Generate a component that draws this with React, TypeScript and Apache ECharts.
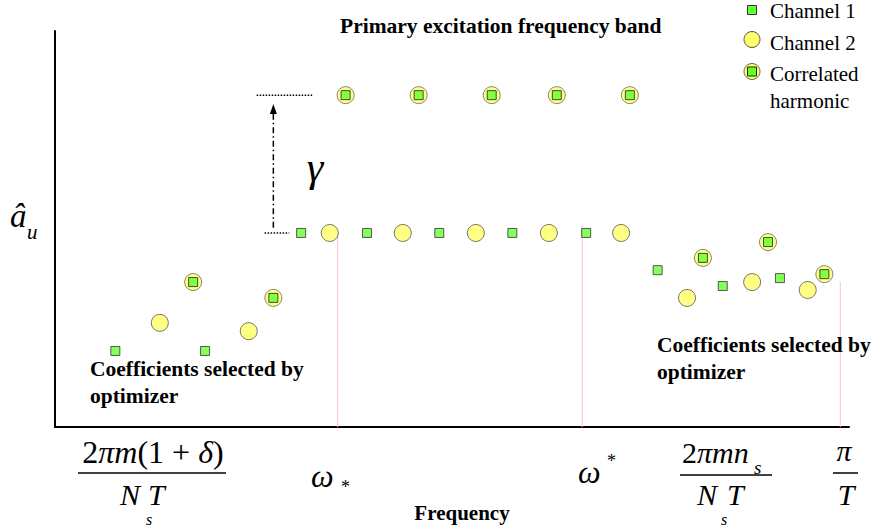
import React, { useEffect, useRef } from "react";
import * as echarts from "echarts";

// ---- data (x: frequency position 0..100, y: coefficient magnitude 0..100) ----
const channel1: number[][] = [
  [7.6, 19.2], [18.9, 19.2], [31.0, 49.0], [39.3, 49.0], [48.4, 49.0],
  [57.6, 49.0], [66.9, 49.0], [75.9, 39.6], [84.1, 35.6], [91.3, 37.6],
];
const channel2: number[][] = [
  [13.2, 26.3], [24.4, 24.2], [34.6, 49.0], [43.8, 49.0], [53.0, 49.0],
  [62.2, 49.0], [71.3, 49.0], [79.6, 32.6], [87.8, 36.6], [94.8, 34.6],
];
const correlated: number[][] = [
  [17.4, 36.6], [27.5, 32.6], [36.6, 83.8], [45.8, 83.8], [55.0, 83.8],
  [63.2, 83.8], [72.4, 83.8], [81.6, 42.7], [89.8, 46.7], [96.9, 38.6],
];
// band edge markers: [x, top]
const bandEdges: number[][] = [[35.6, 48.5], [66.4, 51.0], [98.9, 36.6]];
// gamma annotation levels
const gammaUpper: number[][] = [[25.4, 83.8], [32.5, 83.8]];
const gammaLower: number[][] = [[26.4, 49.0], [29.5, 49.0]];
const gammaArrow: number[][] = [[27.5, 50.3], [27.5, 80.3]];

const seriesNames = ["Channel 1", "Channel 2", "Correlated harmonic"];
const titleText = "Primary excitation frequency band";
const xAxisName = "Frequency";
const noteLines = ["Coefficients selected by", "optimizer"];

const FONT = "Liberation Serif";
const GREEN = "#66ff33";
const YELLOW = "#ffff66";

const txt = (
  text: string, x: number, y: number, size: number,
  o: { italic?: boolean; bold?: boolean; align?: string } = {}
) => ({
  type: "text", x, y, silent: true, z: 10,
  style: {
    text, fontFamily: FONT, fontSize: size,
    fontStyle: o.italic ? "italic" : "normal",
    fontWeight: o.bold ? "bold" : "normal",
    fill: "#000", align: o.align || "left", verticalAlign: "middle",
  },
});

const richMath = (text: string, x: number, y: number, align = "left", size = 30) => ({
  type: "text", x, y, silent: true, z: 10,
  style: {
    text, align, verticalAlign: "middle", fill: "#000",
    fontFamily: FONT, fontSize: size,
    rich: {
      r: { fontFamily: FONT, fontSize: size, fontStyle: "normal", fill: "#000" },
      i: { fontFamily: FONT, fontSize: size, fontStyle: "italic", fill: "#000" },
    },
  },
});

const hline = (x1: number, x2: number, y: number) => ({
  type: "line", silent: true, z: 10,
  shape: { x1, y1: y, x2, y2: y },
  style: { stroke: "#000", lineWidth: 1.5 },
});

export default function App() {
  const ref = useRef<HTMLDivElement>(null);
  useEffect(() => {
    if (!ref.current) return;
    const chart = echarts.init(ref.current, null, { renderer: "svg" });

    const edgeSeries = bandEdges.map((e) => ({
      type: "line", silent: true, z: 1, symbol: "none",
      data: [[e[0], 0], [e[0], e[1]]],
      lineStyle: { color: "#ffbcdf", width: 1 },
    }));

    const option: any = {
      animation: false,
      textStyle: { fontFamily: FONT },
      grid: { left: 55, right: 24, top: 31, bottom: 104 },
      xAxis: {
        type: "value", min: 0, max: 100,
        axisLine: { show: true, onZero: false, lineStyle: { color: "#000", width: 2 } },
        axisTick: { show: false }, axisLabel: { show: false }, splitLine: { show: false },
      },
      yAxis: {
        type: "value", min: 0, max: 100,
        axisLine: { show: true, onZero: false, lineStyle: { color: "#000", width: 2 } },
        axisTick: { show: false }, axisLabel: { show: false }, splitLine: { show: false },
      },
      series: [
        ...edgeSeries,
        {
          type: "line", silent: true, z: 2, symbol: "none", data: gammaUpper,
          lineStyle: { color: "#000", width: 1.5, type: [1.5, 1.5] },
        },
        {
          type: "line", silent: true, z: 2, symbol: "none", data: gammaLower,
          lineStyle: { color: "#000", width: 1.5, type: [1.5, 1.5] },
        },
        {
          type: "line", silent: true, z: 2, showSymbol: true,
          data: [
            { value: gammaArrow[0], symbol: "none" },
            { value: gammaArrow[1], symbol: "triangle", symbolSize: [7, 10] },
          ],
          itemStyle: { color: "#000" },
          lineStyle: { color: "#000", width: 1.5, type: [6, 3, 1.5, 3] },
        },
        {
          name: seriesNames[0], type: "scatter", z: 5, data: channel1,
          symbol: "rect", symbolSize: 9,
          itemStyle: { color: GREEN, borderColor: "#333", borderWidth: 1 },
        },
        {
          name: seriesNames[1], type: "scatter", z: 5, data: channel2,
          symbol: "circle", symbolSize: 17,
          itemStyle: { color: YELLOW, borderColor: "#555", borderWidth: 1 },
        },
        {
          name: seriesNames[2], type: "scatter", z: 5, data: correlated,
          symbol: "circle", symbolSize: 17,
          itemStyle: { color: YELLOW, borderColor: "#666", borderWidth: 1 },
        },
        {
          name: seriesNames[2], type: "scatter", z: 6, data: correlated,
          symbol: "rect", symbolSize: 9,
          itemStyle: { color: GREEN, borderColor: "#222", borderWidth: 1 },
        },
      ],
      graphic: [
        // title
        txt(titleText, 340, 26, 21.5, { bold: true }),
        // legend
        { type: "rect", z: 10, shape: { x: 747.5, y: 5.5, width: 9, height: 9 },
          style: { fill: GREEN, stroke: "#333", lineWidth: 1 } },
        txt(seriesNames[0], 770, 11, 21),
        { type: "circle", z: 10, shape: { cx: 752, cy: 39.5, r: 8 },
          style: { fill: YELLOW, stroke: "#555", lineWidth: 1 } },
        txt(seriesNames[1], 770, 43, 21),
        { type: "circle", z: 10, shape: { cx: 752, cy: 71.5, r: 8 },
          style: { fill: YELLOW, stroke: "#666", lineWidth: 1 } },
        { type: "rect", z: 11, shape: { x: 747.5, y: 67, width: 9, height: 9 },
          style: { fill: GREEN, stroke: "#222", lineWidth: 1 } },
        txt("Correlated", 770, 74, 21),
        txt("harmonic", 770, 101, 21),
        // notes
        txt(noteLines[0], 90, 369, 21.5, { bold: true }),
        txt(noteLines[1], 90, 396, 21.5, { bold: true }),
        txt(noteLines[0], 657, 345, 21.5, { bold: true }),
        txt(noteLines[1], 657, 372, 21.5, { bold: true }),
        // gamma
        txt("γ", 315, 167, 42, { italic: true, align: "center" }),
        // y axis label
        txt("â", 10, 216, 33, { italic: true }),
        txt("u", 27, 232, 21, { italic: true }),
        // x axis name
        txt(xAxisName, 462, 513, 21, { bold: true, align: "center" }),
        // tick label 1: 2πm(1+δ) / N_s T
        richMath("{r|2}{i|πm}{r|(1 + }{i|δ}{r|)}", 153, 452, "center", 32),
        hline(78, 226, 473),
        txt("N", 120, 494, 30, { italic: true }),
        txt("s", 146, 519, 16, { italic: true }),
        txt("T", 148, 494, 30, { italic: true }),
        // ω_*
        txt("ω", 311, 476, 32, { italic: true }),
        txt("*", 341, 487, 18),
        // ω^*
        txt("ω", 578, 472, 32, { italic: true }),
        txt("*", 607, 461, 18),
        // 2πmn_s / N_s T
        richMath("{r|2}{i|πmn}", 682, 452, "left", 30),
        txt("s", 754, 467, 19, { italic: true }),
        hline(680, 772, 475),
        txt("N", 697, 494, 30, { italic: true }),
        txt("s", 721, 519, 16, { italic: true }),
        txt("T", 727, 494, 30, { italic: true }),
        // π / T
        txt("π", 844, 450, 30, { italic: true, align: "center" }),
        hline(833, 858, 473),
        txt("T", 846, 494, 30, { italic: true, align: "center" }),
      ],
    };
    chart.setOption(option);
    return () => chart.dispose();
  }, []);
  return (
    <div
      ref={ref}
      style={{ position: "absolute", left: 0, top: 0, width: 873, height: 531, background: "#fff" }}
    />
  );
}
